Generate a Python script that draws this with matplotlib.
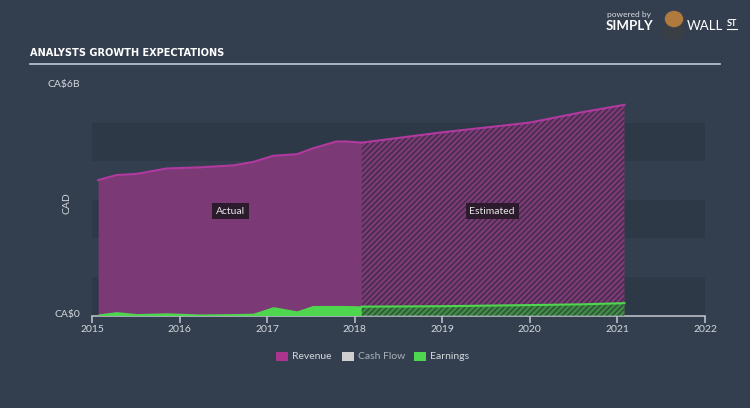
# Analysts growth expectations - revenue / earnings, actual vs estimated

import matplotlib.pyplot as plt
from matplotlib import font_manager
from matplotlib.patches import Rectangle, Ellipse

# Actual data (CA$ billions)
actual_years = [2015.07, 2015.28, 2015.51, 2015.85, 2016.23, 2016.61, 2016.84,
                2017.07, 2017.34, 2017.52, 2017.79, 2017.91, 2018.08]
actual_revenue = [3.51, 3.64, 3.67, 3.81, 3.84, 3.89, 3.98,
                  4.14, 4.18, 4.33, 4.51, 4.51, 4.48]
actual_earnings = [0.04, 0.10, 0.05, 0.07, 0.04, 0.05, 0.06,
                   0.23, 0.12, 0.26, 0.26, 0.26, 0.25]

# Analyst estimates (CA$ billions)
est_years = [2018.08, 2018.97, 2020.0, 2020.6, 2021.08]
est_revenue = [4.48, 4.74, 5.00, 5.27, 5.46]
est_earnings = [0.23, 0.24, 0.27, 0.29, 0.32]

year_ticks = [2015, 2016, 2017, 2018, 2019, 2020, 2021, 2022]
legend_names = ['Revenue', 'Cash Flow', 'Earnings']
legend_colors = ['#a9358f', '#cfcfcf', '#4fd64f']

bg = '#333f4f'
band = '#2d3947'
rev_line = '#b1399f'
rev_fill = '#7b3a75'
earn_col = '#4fd64f'
text_col = '#d3d7dc'
W, H = 750, 408

plt.rcParams['font.family'] = ['Lato', 'DejaVu Sans']
plt.rcParams['hatch.linewidth'] = 0.9

# look for a narrow bold face for the title
title_font = None
for f in font_manager.fontManager.ttflist:
    n = (f.name + ' ' + str(f.stretch)).lower()
    if ('narrow' in n or 'condensed' in n) and f.weight in (700, 'bold'):
        title_font = font_manager.FontProperties(fname=f.fname)
        break

fig = plt.figure(figsize=(7.5, 4.08), dpi=100, facecolor=bg)
ax = fig.add_axes([92 / W, (H - 315.5) / H, 613 / W, 231.5 / H])
ax.set_facecolor(bg)
ax.set_xlim(2015, 2022)
ax.set_ylim(0, 6)

# background bands, one per CA$1B
for i in (0, 2, 4):
    ax.axhspan(i, i + 1, color=band, lw=0, zorder=0)

# actual areas
ax.fill_between(actual_years, 0, actual_revenue, color=rev_fill, lw=0, zorder=2)
ax.plot(actual_years, actual_revenue, color=rev_line, lw=1.5, zorder=4)
ax.fill_between(actual_years, 0, actual_earnings, color=earn_col, lw=0, zorder=3)

# estimated areas (hatched)
ax.fill_between(est_years, 0, est_revenue, facecolor=rev_fill, edgecolor='#3b2a45',
                hatch='//////', lw=0, zorder=2)
ax.plot(est_years, est_revenue, color=rev_line, lw=1.5, zorder=4)
ax.fill_between(est_years, 0, est_earnings, facecolor='#3f8a45', edgecolor='#2c4a36',
                hatch='//////', lw=0, zorder=3)
ax.plot(est_years, est_earnings, color=earn_col, lw=1.5, zorder=4)

# labels in the areas
box = dict(boxstyle='square,pad=0.35', fc='#2b1b2c', ec='none')
ax.text(2016.58, 2.70, 'Actual', color='#e8e8e8', fontsize=7.5, ha='center', va='center',
        bbox=box, zorder=5)
ax.text(2019.57, 2.70, 'Estimated', color='#e8e8e8', fontsize=7.5, ha='center', va='center',
        bbox=box, zorder=5)

# axes styling
for s in ['top', 'right', 'left']:
    ax.spines[s].set_visible(False)
ax.spines['bottom'].set_color('#b8bec6')
ax.spines['bottom'].set_linewidth(1.2)
ax.set_xticks(year_ticks)
ax.set_xticklabels([str(y) for y in year_ticks])
ax.tick_params(axis='x', colors='#b8bec6', labelcolor=text_col, labelsize=7.5,
               length=5, width=1.2, pad=2)
ax.set_yticks([])

fig.text(80 / W, 1 - 84 / H, 'CA$6B', color=text_col, fontsize=7.5, ha='right', va='center')
fig.text(80 / W, 1 - 315 / H, 'CA$0', color=text_col, fontsize=7.5, ha='right', va='center')
fig.text(67 / W, 1 - 203 / H, 'CAD', color=text_col, fontsize=7.5, ha='center', va='center',
         rotation=90)

# title and rule
if title_font is not None:
    title_font.set_size(7.8)
    fig.text(30 / W, 1 - 53 / H, 'ANALYSTS GROWTH EXPECTATIONS', color='white',
             fontproperties=title_font, ha='left', va='center')
else:
    fig.text(30 / W, 1 - 53 / H, 'ANALYSTS GROWTH EXPECTATIONS', color='white', fontsize=7,
             fontweight='bold', family='DejaVu Sans', ha='left', va='center')
fig.add_artist(plt.Line2D([30 / W, 720 / W], [1 - 64 / H, 1 - 64 / H],
                          color='#c0c8d2', lw=1.2))

# logo
fig.text(607 / W, 1 - 15 / H, 'powered by', color='#d8dce0', fontsize=6, ha='left', va='center')
fig.text(606 / W, 1 - 26 / H, 'SIMPLY', color='white', fontsize=9.5, fontweight='bold',
         ha='left', va='center')
fig.add_artist(Ellipse((674 / W, 1 - 31 / H), 22 / W, 18 / H, transform=fig.transFigure,
                       color='#3a3f45'))
fig.add_artist(Ellipse((674 / W, 1 - 19 / H), 17 / W, 15 / H, transform=fig.transFigure,
                       color='#b07a3e'))
fig.text(687 / W, 1 - 26 / H, 'WALL', color='white', fontsize=9.5, fontweight='normal',
         ha='left', va='center')
fig.text(727 / W, 1 - 24 / H, 'ST', color='white', fontsize=6.5, fontweight='bold',
         ha='left', va='center')
fig.add_artist(plt.Line2D([727 / W, 737 / W], [1 - 29 / H, 1 - 29 / H], color='white', lw=0.8))

# legend, drawn by hand
legend_x = [276, 342, 414]
for x, name, c in zip(legend_x, legend_names, legend_colors):
    fig.add_artist(Rectangle((x / W, 1 - 361 / H), 12 / W, 9 / H, transform=fig.transFigure,
                             color=c, lw=0))
    fig.text((x + 16) / W, 1 - 356.5 / H, name, color=text_col if name != 'Cash Flow' else '#aab0b8',
             fontsize=7.5, ha='left', va='center')

plt.savefig('out.png', dpi=100, facecolor=bg)
